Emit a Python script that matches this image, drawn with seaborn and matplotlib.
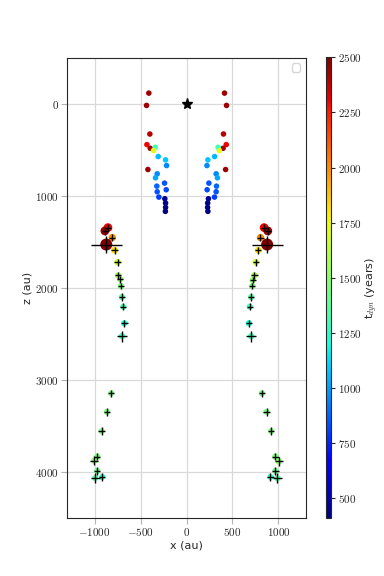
import numpy as np
import pandas as pd
import seaborn as sns
import matplotlib
matplotlib.use("Agg")
import matplotlib.pyplot as plt
from matplotlib.ticker import FuncFormatter

sns.set_style("ticks", {"axes.grid": True})
plt.rcParams["mathtext.fontset"] = "cm"
plt.rcParams["font.family"] = ["DejaVu Sans"]

# jet knots: plain dots close to the source (left lobe, then right lobe)
knot_x = [-410, -435, -399, -431, -395, -340, -359, -308, -228, -217, -420,
          -319, -337, -239, -323, -221, -319, -301, -236, -228, -228, -230,
          413, 435, 402, 432, 398, 343, 356, 305, 232, 222, 425,
          322, 336, 243, 326, 224, 322, 304, 238, 230, 229, 232]
knot_z = [-116, 18, 329, 444, 484, 473, 509, 574, 610, 672, 715,
          762, 805, 863, 896, 935, 957, 1015, 1033, 1080, 1127, 1170,
          -116, 18, 329, 444, 484, 473, 509, 574, 610, 672, 715,
          762, 805, 863, 896, 935, 957, 1015, 1033, 1080, 1127, 1170]
knot_t = [2450, 2450, 2400, 2300, 2420, 1300, 1700, 1050, 1080, 950, 2450,
          950, 1020, 850, 880, 820, 850, 800, 450, 430, 420, 415,
          2450, 2450, 2400, 2300, 2420, 1300, 1700, 1050, 1080, 950, 2450,
          950, 1020, 850, 880, 820, 850, 800, 450, 430, 420, 415]

# outer knots with position errors
far_x = [-855, -888, -808, -873, -783, -750, -743, -721, -714, -703, -688, -677, -703,
         -819, -866, -924, -971, -1003, -971, -917, -993,
         844, 884, 804, 877, 779, 753, 739, 721, 714, 703, 688, 677, 703,
         819, 870, 920, 967, 1004, 967, 913, 989]
far_z = [1347, 1383, 1455, 1531, 1593, 1723, 1867, 1910, 1983, 2102, 2207, 2387, 2528,
         3149, 3351, 3561, 3838, 3882, 3994, 4059, 4070,
         1347, 1383, 1455, 1531, 1593, 1723, 1867, 1918, 1983, 2102, 2207, 2387, 2528,
         3149, 3351, 3561, 3838, 3890, 3994, 4059, 4074]
far_t = [2300, 2450, 2000, 2500, 1800, 1650, 1550, 1500, 1450, 1350, 1300, 1200, 1300,
         1450, 1450, 1450, 1450, 1500, 1400, 1250, 1350,
         2300, 2450, 2000, 2500, 1800, 1650, 1550, 1500, 1450, 1350, 1300, 1200, 1300,
         1450, 1450, 1450, 1450, 1500, 1400, 1250, 1350]
far_size = [40, 40, 28, 75, 24, 22, 22, 20, 20, 20, 20, 20, 22,
            20, 20, 20, 22, 22, 20, 20, 20,
            40, 40, 28, 75, 24, 22, 22, 20, 20, 20, 20, 20, 22,
            20, 20, 20, 22, 22, 20, 20, 20]
far_xerr = [35, 35, 35, 168, 35, 35, 35, 30, 30, 35, 35, 35, 55,
            35, 35, 35, 35, 45, 35, 35, 50,
            35, 35, 35, 168, 35, 35, 35, 30, 30, 35, 35, 35, 55,
            35, 35, 35, 35, 45, 35, 35, 50]
far_zerr = [40, 40, 40, 90, 40, 40, 40, 35, 35, 40, 40, 40, 60,
            40, 40, 40, 40, 50, 40, 40, 55,
            40, 40, 40, 90, 40, 40, 40, 35, 35, 40, 40, 40, 60,
            40, 40, 40, 40, 50, 40, 40, 55]

t_min, t_max = 410, 2500

knots = pd.DataFrame({"x": knot_x, "z": knot_z, "t": knot_t, "s": 16})
far = pd.DataFrame({"x": far_x, "z": far_z, "t": far_t, "s": far_size})
pts = pd.concat([knots, far], ignore_index=True)

jet = plt.get_cmap("jet")

fig = plt.figure(figsize=(3.84, 5.76), dpi=100)
ax = fig.add_axes([0.1745, 0.1007, 0.6225, 0.7998])
cax = fig.add_axes([0.849, 0.1007, 0.013, 0.7998])

sns.scatterplot(data=pts, x="x", y="z", hue="t", palette=jet,
                hue_norm=(t_min, t_max), size="s", sizes=(16, 75),
                size_norm=(16, 75), linewidth=0, legend=False, ax=ax, zorder=3)
ax.errorbar(far["x"], far["z"], xerr=far_xerr, yerr=far_zerr, fmt="none",
            ecolor="k", elinewidth=1, capsize=0, zorder=4)
ax.plot(0, 0, marker="*", color="k", markersize=8, linestyle="none", zorder=5)

ax.set_xlim(-1300, 1300)
ax.set_ylim(4500, -500)
ax.set_aspect("equal", adjustable="box")
ax.set_xticks([-1000, -500, 0, 500, 1000])
ax.set_yticks([0, 1000, 2000, 3000, 4000])
fmt = FuncFormatter(lambda v, p: "$%d$" % v)
ax.xaxis.set_major_formatter(fmt)
ax.yaxis.set_major_formatter(fmt)
ax.tick_params(labelsize=8, color="0.7", length=4, width=0.8, pad=2)
ax.grid(color="0.85", linewidth=0.9)
ax.set_xlabel("x (au)", fontsize=8, labelpad=2)
ax.set_ylabel("z (au)", fontsize=8, labelpad=2)
ax.legend(loc="upper right", fontsize=8)

sm = plt.cm.ScalarMappable(cmap=jet, norm=plt.Normalize(t_min, t_max))
cb = fig.colorbar(sm, cax=cax)
cb.set_ticks(np.arange(500, 2501, 250))
cb.ax.yaxis.set_major_formatter(fmt)
cb.ax.tick_params(labelsize=8, length=3, pad=2)
cb.set_label("t$_{dyn}$ (years)", fontsize=8, labelpad=1)

fig.savefig("out.png", dpi=100)
